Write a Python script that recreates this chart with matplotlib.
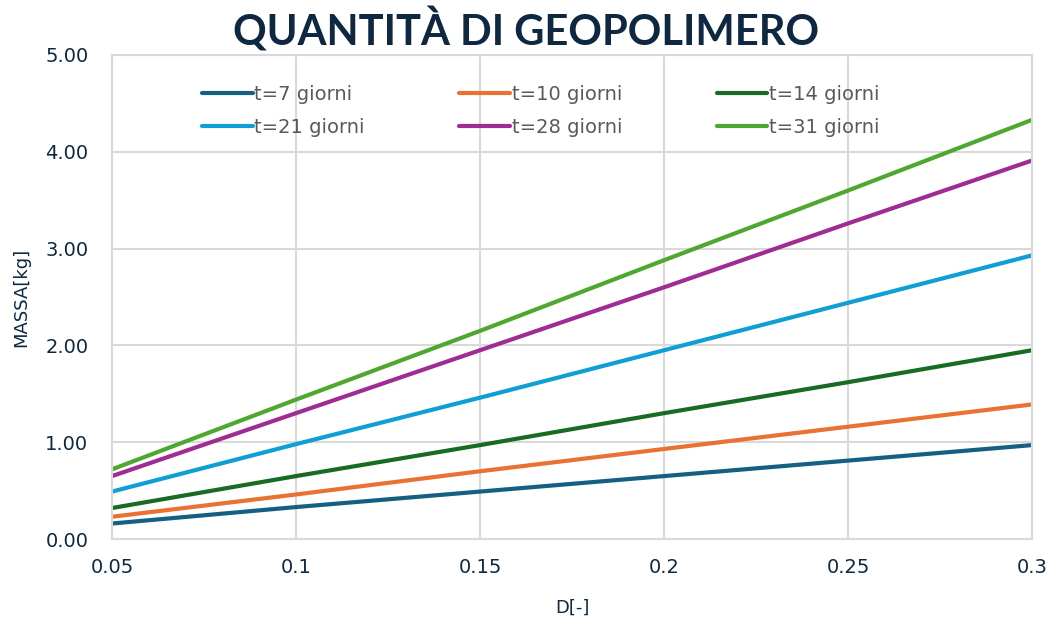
import numpy as np
import matplotlib.pyplot as plt

# D values on the x axis
D = [0.05, 0.10, 0.15, 0.20, 0.25, 0.30]

# mass [kg] for each curing time
t7 = [0.16, 0.33, 0.49, 0.65, 0.81, 0.97]
t10 = [0.23, 0.46, 0.70, 0.93, 1.16, 1.39]
t14 = [0.32, 0.65, 0.97, 1.30, 1.62, 1.95]
t21 = [0.49, 0.98, 1.46, 1.95, 2.44, 2.93]
t28 = [0.65, 1.30, 1.95, 2.60, 3.26, 3.91]
t31 = [0.72, 1.44, 2.15, 2.88, 3.60, 4.33]

labels = ['t=7 giorni', 't=10 giorni', 't=14 giorni',
          't=21 giorni', 't=28 giorni', 't=31 giorni']
colors = ['#156082', '#E97132', '#196B24', '#0F9ED5', '#A02B93', '#4EA72E']
series = [t7, t10, t14, t21, t28, t31]

navy = '#0E2841'
gridc = '#D9D9D9'

fig = plt.figure(figsize=(10.53, 6.24), dpi=100)
ax = fig.add_axes([0.1064, 0.1362, 0.8737, 0.7757])

lines = []
for y, lab, c in zip(series, labels, colors):
    l, = ax.plot(D, y, color=c, lw=3, label=lab, solid_capstyle='round')
    lines.append(l)

ax.set_xlim(0.05, 0.3)
ax.set_ylim(0, 5)
ax.set_xticks([0.05, 0.1, 0.15, 0.2, 0.25, 0.3])
ax.set_xticklabels(['0.05', '0.1', '0.15', '0.2', '0.25', '0.3'])
ax.set_yticks(np.arange(0, 5.01, 1))
ax.set_yticklabels(['%.2f' % v for v in np.arange(0, 5.01, 1)])
ax.grid(True, color=gridc, lw=1.5)
ax.set_axisbelow(True)
for s in ax.spines.values():
    s.set_color(gridc)
    s.set_linewidth(1.5)
ax.tick_params(axis='y', length=0, labelsize=14, colors=navy, pad=17)
ax.tick_params(axis='x', length=0, labelsize=14, colors=navy, pad=14)
ax.set_xlabel('D[-]', fontsize=13, color=navy, labelpad=15)
ax.set_ylabel('MASSA[kg]', fontsize=13, color=navy, labelpad=11)

fig.text(0.5, 0.952, 'QUANTITÀ DI GEOPOLIMERO', ha='center', va='center',
         fontsize=30, fontweight='bold', color=navy, family='Lato')

# legend filled row by row like the original
order = [0, 3, 1, 4, 2, 5]
leg = ax.legend([lines[i] for i in order], [labels[i] for i in order],
                loc='upper center', bbox_to_anchor=(0.466, 0.975), ncol=3,
                frameon=False, fontsize=14, handlelength=2.6, handletextpad=0.1,
                columnspacing=4.85, labelspacing=0.75)
for txt in leg.get_texts():
    txt.set_color('#595959')

fig.savefig('out.png', dpi=100)
